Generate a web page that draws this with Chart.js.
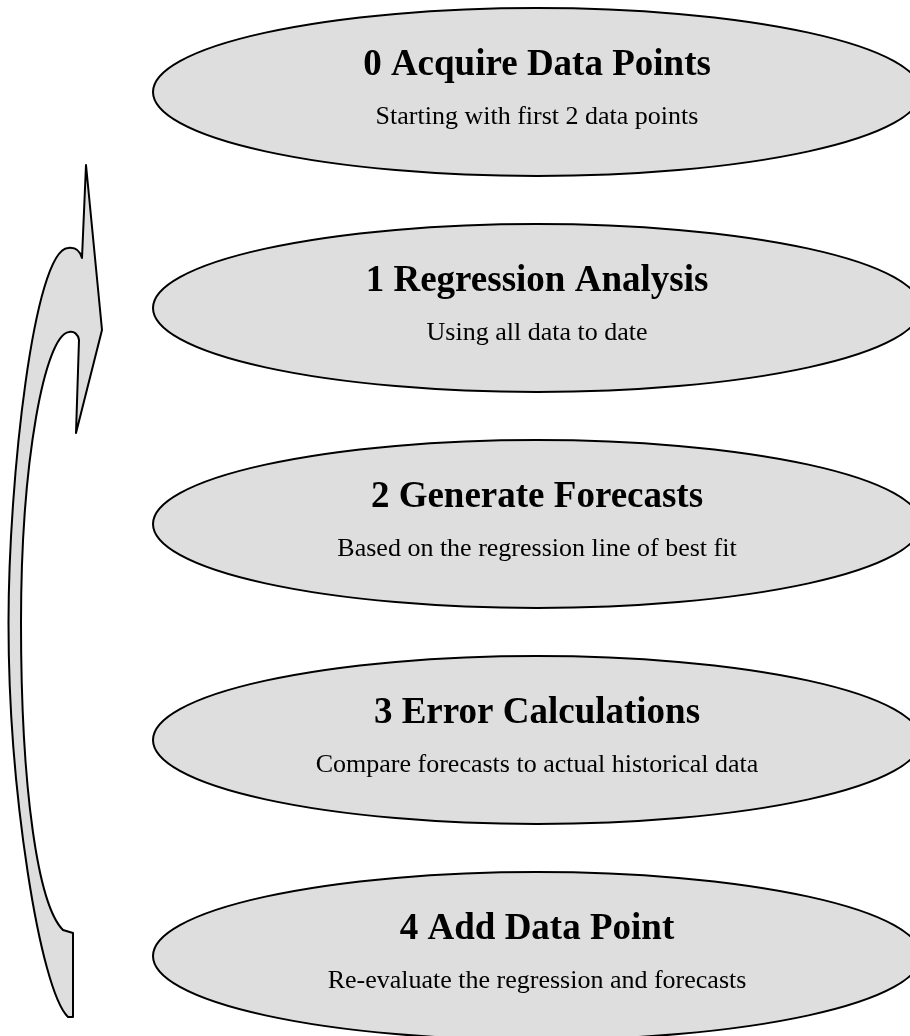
<!DOCTYPE html>
<html>
<head>
<meta charset="utf-8">
<title>Regression forecasting cycle</title>
<script src="https://cdn.jsdelivr.net/npm/chart.js@4/dist/chart.umd.min.js"></script>
<style>
    html, body { margin: 0; padding: 0; background: #fff; overflow: hidden; }
    #wrap { width: 910px; height: 1036px; }
</style>
</head>
<body>
<div id="wrap"><canvas id="cycleChart" width="910" height="1036"></canvas></div>
<script>
// steps of the cycle
const stepTitles = ['0 Acquire Data Points', '1 Regression Analysis', '2 Generate Forecasts', '3 Error Calculations', '4 Add Data Point'];
const stepNotes = [
    'Starting with first 2 data points',
    'Using all data to date',
    'Based on the regression line of best fit',
    'Compare forecasts to actual historical data',
    'Re-evaluate the regression and forecasts'
];
const stepX = [537, 537, 537, 537, 537];
const stepY = [92, 308, 524, 740, 956];
const stepHalfWidth = 384;
const stepHalfHeight = 84;

// outline of the curved return arrow (M / L / C segments)
const arrowPath = [
    ['M', 86, 165],
    ['L', 102, 330],
    ['L', 76, 433],
    ['L', 79, 340],
    ['C', 78, 334, 74, 331, 69, 332],
    ['C', 45, 335, 21, 460, 21, 623],
    ['C', 21, 790, 38, 905, 63, 930],
    ['L', 73, 933],
    ['L', 73, 1017],
    ['L', 68, 1017],
    ['C', 40, 990, 8.5, 790, 8.5, 623],
    ['C', 8.5, 480, 34, 250, 68, 248],
    ['C', 75, 247, 80, 251, 82, 258],
    ['L', 86, 165]
];

const FILL = '#dedede';
const LINE = '#000';

const cyclePlugin = {
    id: 'cycle',
    beforeDatasetsDraw(chart) {
        const { ctx, scales: { x, y } } = chart;
        ctx.save();
        ctx.lineWidth = 2;
        ctx.strokeStyle = LINE;
        ctx.lineJoin = 'round';

        // return arrow
        ctx.beginPath();
        arrowPath.forEach(seg => {
            const p = [];
            for (let i = 1; i < seg.length; i += 2) {
                p.push(x.getPixelForValue(seg[i]), y.getPixelForValue(seg[i + 1]));
            }
            if (seg[0] === 'M') ctx.moveTo(p[0], p[1]);
            else if (seg[0] === 'L') ctx.lineTo(p[0], p[1]);
            else ctx.bezierCurveTo(p[0], p[1], p[2], p[3], p[4], p[5]);
        });
        ctx.closePath();
        ctx.fillStyle = FILL;
        ctx.fill();
        ctx.stroke();

        // step ellipses with their text
        const meta = chart.getDatasetMeta(0);
        meta.data.forEach((pt, i) => {
            const rx = Math.abs(x.getPixelForValue(stepX[i] + stepHalfWidth) - pt.x);
            const ry = Math.abs(y.getPixelForValue(stepY[i] + stepHalfHeight) - pt.y);
            ctx.beginPath();
            ctx.ellipse(pt.x, pt.y, rx, ry, 0, 0, Math.PI * 2);
            ctx.fillStyle = FILL;
            ctx.fill();
            ctx.stroke();

            ctx.fillStyle = '#000';
            ctx.textAlign = 'center';
            ctx.textBaseline = 'alphabetic';
            ctx.font = 'bold 37px "Liberation Serif", "Times New Roman", serif';
            ctx.fillText(stepTitles[i], pt.x, pt.y - 17);
            ctx.font = '26px "Liberation Serif", "Times New Roman", serif';
            ctx.fillText(stepNotes[i], pt.x, pt.y + 32);
        });
        ctx.restore();
    }
};

new Chart(document.getElementById('cycleChart'), {
    type: 'scatter',
    data: {
        datasets: [{
            label: 'Steps',
            data: stepX.map((v, i) => ({ x: v, y: stepY[i] })),
            pointRadius: 0,
            pointHoverRadius: 0
        }]
    },
    options: {
        responsive: false,
        animation: false,
        layout: { padding: 0 },
        plugins: {
            legend: { display: false },
            tooltip: { enabled: false }
        },
        scales: {
            x: { type: 'linear', min: 0, max: 910, display: false },
            y: { type: 'linear', min: 0, max: 1036, reverse: true, display: false }
        }
    },
    plugins: [cyclePlugin]
});
</script>
</body>
</html>
